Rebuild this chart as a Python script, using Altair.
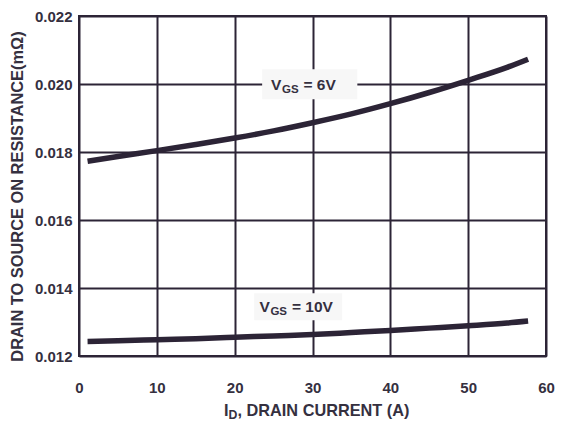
import altair as alt
import pandas as pd

# ---- data ----
current_6v = [1.1, 5, 10, 15, 20, 25, 30, 35, 40, 45, 50, 55, 57.7]
rds_6v = [0.01773, 0.01787, 0.01804, 0.01822, 0.01841, 0.01862, 0.01886,
          0.01912, 0.01942, 0.01975, 0.02011, 0.02049, 0.02073]
current_10v = [1.1, 5, 10, 15, 20, 25, 30, 35, 40, 45, 50, 55, 57.7]
rds_10v = [0.01243, 0.01245, 0.01248, 0.01251, 0.01255, 0.01259, 0.01263,
           0.01269, 0.01275, 0.01282, 0.01289, 0.01297, 0.01303]
series_names = ["VGS = 6V", "VGS = 10V"]

x_ticks = [0, 10, 20, 30, 40, 50, 60]
y_ticks = [0.012, 0.014, 0.016, 0.018, 0.020, 0.022]

# curve labels (data units)
label_values = ["= 6V", "= 10V"]
label_x = [24.67, 23.18]
label_y = [0.019835, 0.013294]
box_x0 = [23.53, 22.51]
box_x1 = [35.76, 33.81]
box_y0 = [0.01955, 0.01305]
box_y1 = [0.020432, 0.013844]

INK = "#2c2436"
TEXT = "#35303f"
FONT = "Liberation Sans"

curves = pd.DataFrame({
    "x": current_6v + current_10v,
    "y": rds_6v + rds_10v,
    "series": [series_names[0]] * len(current_6v) + [series_names[1]] * len(current_10v),
})
labels = pd.DataFrame({
    "value": label_values, "x": label_x, "y": label_y,
    "bx": box_x0, "bx2": box_x1, "by": box_y0, "by2": box_y1,
})

xscale = alt.Scale(domain=[0, 60], nice=False, zero=False)
yscale = alt.Scale(domain=[0.012, 0.022], nice=False, zero=False)

xaxis = alt.Axis(values=x_ticks, format="d", title=None, grid=True,
                 gridColor=INK, gridWidth=2, gridOpacity=1,
                 domain=False, ticks=False, labelPadding=24,
                 labelFont=FONT, labelFontSize=15, labelFontWeight="bold",
                 labelColor=TEXT, labelFlush=False)
yaxis = alt.Axis(values=y_ticks, format=".3f",
                 title="DRAIN TO SOURCE ON RESISTANCE(mΩ)",
                 grid=True, gridColor=INK, gridWidth=2, gridOpacity=1,
                 domain=False, ticks=False, labelPadding=7,
                 labelFont=FONT, labelFontSize=15, labelFontWeight="bold",
                 labelColor=TEXT, labelFlush=False, labelBaseline="middle",
                 titleFont=FONT, titleFontSize=16.4, titleFontWeight="bold",
                 titleColor=TEXT, titleAngle=270, titleAlign="center",
                 titleBaseline="middle", titleX=-62, titleY=180)

lines = alt.Chart(curves).mark_line(
    color=INK, strokeWidth=5.5, interpolate="monotone", strokeCap="butt"
).encode(
    x=alt.X("x:Q", scale=xscale, axis=xaxis),
    y=alt.Y("y:Q", scale=yscale, axis=yaxis),
    detail="series:N",
)

boxes = alt.Chart(labels).mark_rect(color="#f7f7f7").encode(
    x=alt.X("bx:Q", scale=xscale, axis=xaxis),
    x2="bx2:Q",
    y=alt.Y("by:Q", scale=yscale, axis=yaxis),
    y2="by2:Q",
)

base_text = alt.Chart(labels).encode(
    x=alt.X("x:Q", scale=xscale, axis=xaxis),
    y=alt.Y("y:Q", scale=yscale, axis=yaxis),
)
t_v = base_text.mark_text(font=FONT, fontSize=15.5, fontWeight="bold", color=TEXT,
                          align="left", baseline="alphabetic").encode(text=alt.value("V"))
t_gs = base_text.mark_text(font=FONT, fontSize=11.5, fontWeight="bold", color=TEXT,
                           align="left", baseline="alphabetic", dx=11, dy=3).encode(text=alt.value("GS"))
t_val = base_text.mark_text(font=FONT, fontSize=15.5, fontWeight="bold", color=TEXT,
                            align="left", baseline="alphabetic", dx=32.5).encode(text="value:N")

# x-axis title with subscript
xt_i = alt.Chart(pd.DataFrame({"t": ["I"]})).mark_text(
    font=FONT, fontSize=16.3, fontWeight="bold", color=TEXT, align="left", baseline="alphabetic"
).encode(x=alt.value(145), y=alt.value(399.5), text="t:N")
xt_d = alt.Chart(pd.DataFrame({"t": ["D"]})).mark_text(
    font=FONT, fontSize=12.3, fontWeight="bold", color=TEXT, align="left", baseline="alphabetic"
).encode(x=alt.value(149.5), y=alt.value(402.5), text="t:N")
xt_rest = alt.Chart(pd.DataFrame({"t": [", DRAIN CURRENT (A)"]})).mark_text(
    font=FONT, fontSize=16.3, fontWeight="bold", color=TEXT, align="left", baseline="alphabetic"
).encode(x=alt.value(158.5), y=alt.value(399.5), text="t:N")

chart = alt.layer(lines, boxes, t_v, t_gs, t_val, xt_i, xt_d, xt_rest).properties(
    width=467, height=340,
    padding={"left": 71, "top": 8, "right": 9, "bottom": 64},
    autosize=alt.AutoSizeParams(type="none"),
    background="white",
).configure_view(stroke=INK, strokeWidth=2)

chart.save("out.html", embed_options={"renderer": "svg", "actions": False})
